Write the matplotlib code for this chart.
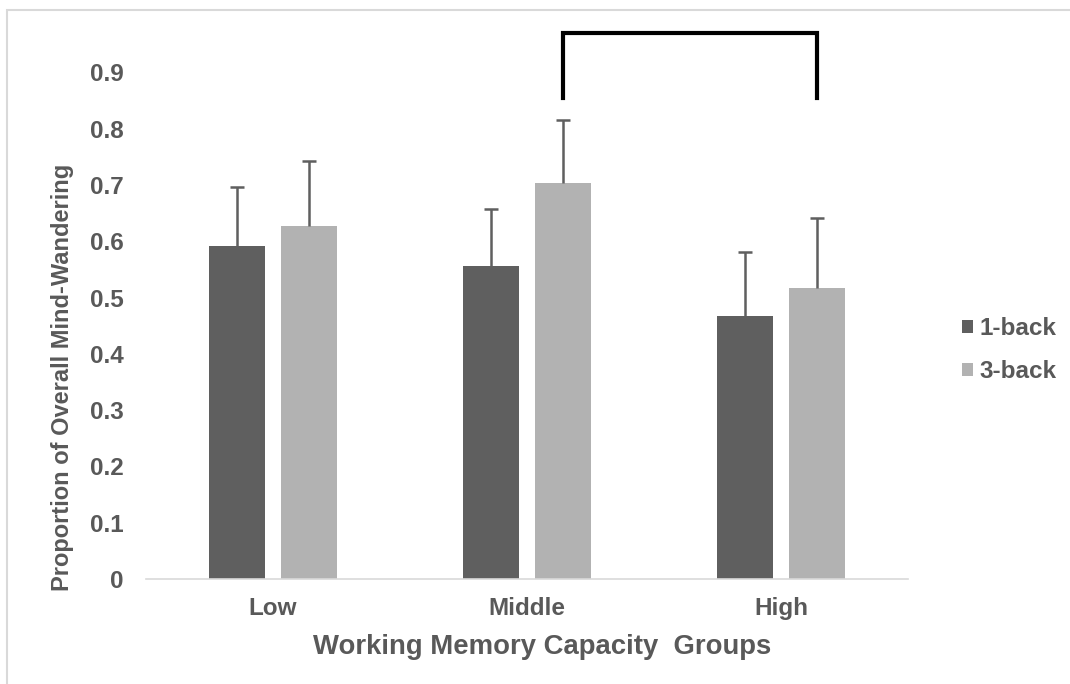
import numpy as np
import matplotlib.pyplot as plt
from matplotlib.patches import Rectangle

plt.rcParams['font.family'] = ['Liberation Sans', 'DejaVu Sans']
plt.rcParams['font.weight'] = 'bold'

# datos
grupos = ['Low', 'Middle', 'High']
one_back = [0.591, 0.556, 0.467]
one_back_err = [0.105, 0.101, 0.114]
three_back = [0.627, 0.703, 0.517]
three_back_err = [0.115, 0.112, 0.124]
series = ['1-back', '3-back']
yticks = [0, 0.1, 0.2, 0.3, 0.4, 0.5, 0.6, 0.7, 0.8, 0.9]
bracket_top = 0.97
bracket_bottom = 0.855

texto = '#595959'
c1 = '#5f5f5f'
c3 = '#b2b2b2'

fig = plt.figure(figsize=(10.7, 6.84), dpi=100)
ax = fig.add_axes([0.136, 0.1535, 0.713, 0.823])

x = np.arange(len(grupos))
w = 0.22
off = 0.142
ekw = dict(fmt='none', ecolor=c1, elinewidth=1.8, capsize=5, capthick=1.8)

ax.bar(x - off, one_back, w, color=c1, label=series[0])
e1 = ax.errorbar(x - off, one_back, yerr=[np.zeros(3), one_back_err], **ekw)
ax.bar(x + off, three_back, w, color=c3, label=series[1])
e3 = ax.errorbar(x + off, three_back, yerr=[np.zeros(3), three_back_err], **ekw)
# solo la barra de error superior
for e in (e1, e3):
    e[1][0].set_visible(False)

# corchete entre Middle y High (3-back)
bx = [1 + off, 1 + off, 2 + off, 2 + off]
by = [bracket_bottom, bracket_top, bracket_top, bracket_bottom]
ax.plot(bx, by, color='black', lw=3, solid_joinstyle='miter', clip_on=False)

ax.set_xlim(-0.5, 2.5)
ax.set_ylim(0, 1.0)
ax.set_yticks(yticks)
ax.set_yticklabels(['0'] + [f'{v:.1f}' for v in yticks[1:]])
ax.set_xticks(x)
ax.set_xticklabels(grupos)
ax.tick_params(length=0, labelsize=17.5, labelcolor=texto)
ax.tick_params(axis='y', pad=16)
ax.tick_params(axis='x', pad=13)
for s in ['top', 'right', 'left']:
    ax.spines[s].set_visible(False)
ax.spines['bottom'].set_color('#d9d9d9')
ax.spines['bottom'].set_linewidth(1.2)

ax.set_xlabel('Working Memory Capacity  Groups', fontsize=19.8, fontweight='bold',
              color=texto)
ax.xaxis.set_label_coords(0.52, -0.097)
ax.set_ylabel('Proportion of Overall Mind-Wandering', fontsize=17, fontweight='bold',
              color=texto)
ax.yaxis.set_label_coords(-0.094, 0.359)

leg = fig.legend(loc='center left', bbox_to_anchor=(0.879, 0.488), frameon=False,
                 handlelength=0.45, handleheight=0.45, handletextpad=0.25,
                 labelspacing=0.8, fontsize=17.5)
for t in leg.get_texts():
    t.set_color(texto)

# marco gris del area del grafico
fig.patches.append(Rectangle((7 / 1070, -0.1), 1.2, 1.1 - 10 / 684, transform=fig.transFigure,
                             fill=False, edgecolor='#d9d9d9', lw=1.5))

fig.savefig('out.png', dpi=100)
